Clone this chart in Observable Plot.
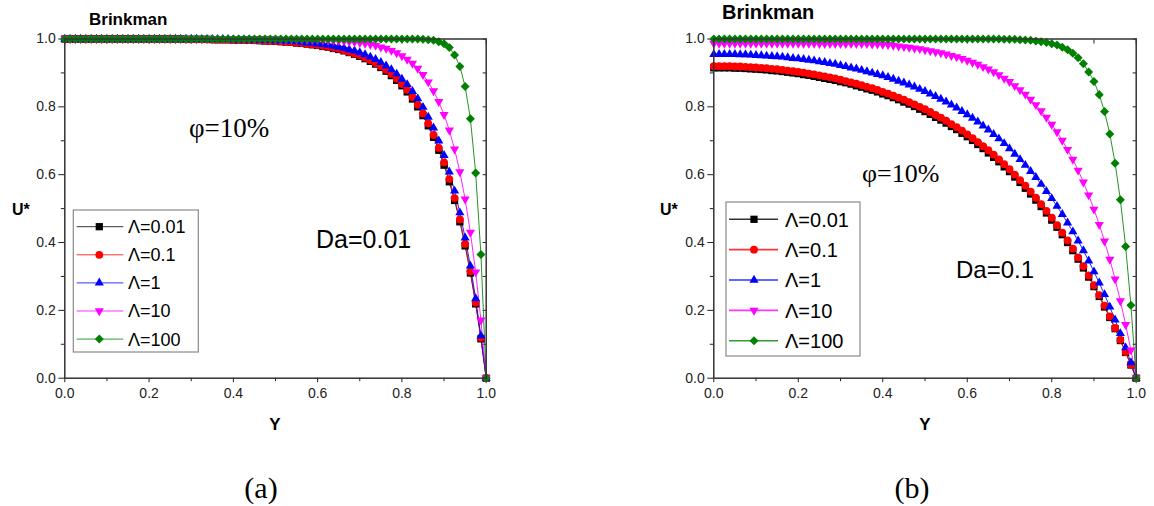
<!DOCTYPE html>
<html>
<head>
<meta charset="utf-8">
<script src="https://cdn.jsdelivr.net/npm/d3@7"></script>
<script src="https://cdn.jsdelivr.net/npm/@observablehq/plot@0.6"></script>
<style>
  html, body { margin: 0; padding: 0; background: #fff; }
  #fig { position: relative; width: 1154px; height: 506px; overflow: hidden; background: #fff; }
  #fig > div { position: absolute; top: 0; }
  #ov { position: absolute; left: 0; top: 0; }
</style>
</head>
<body>
<div id="fig">
  <div id="pa" style="left:0px"></div>
  <div id="pb" style="left:650px"></div>
  <svg id="ov" width="1154" height="506"></svg>
</div>
<script>
// ---------- data ----------
const Ygrid = [0,0.0125,0.025,0.0375,0.05,0.0625,0.075,0.0875,0.1,0.1125,0.125,0.1375,0.15,0.1625,0.175,0.1875,0.2,0.2125,0.225,0.2375,0.25,0.2625,0.275,0.2875,0.3,0.3125,0.325,0.3375,0.35,0.3625,0.375,0.3875,0.4,0.4125,0.425,0.4375,0.45,0.4625,0.475,0.4875,0.5,0.5125,0.525,0.5375,0.55,0.5625,0.575,0.5875,0.6,0.6125,0.625,0.6375,0.65,0.6625,0.675,0.6875,0.7,0.7125,0.725,0.7375,0.75,0.7625,0.775,0.7875,0.8,0.8125,0.825,0.8375,0.85,0.8625,0.875,0.8875,0.9,0.9125,0.925,0.9375,0.95,0.9625,0.975,0.9875,1];

const seriesLabels = ["Λ=0.01","Λ=0.1","Λ=1","Λ=10","Λ=100"];

// Panel (a): Da = 0.01
const a_L001 = [1,1,1,1,1,1,1,1,1,1,1,1,1,1,1,1,1,1,1,1,1,1,1,.999,.999,.999,.999,.999,.998,.998,.998,.998,.997,.997,.997,.996,.996,.995,.994,.994,.993,.992,.991,.990,.988,.987,.985,.983,.981,.978,.976,.972,.969,.965,.960,.955,.949,.942,.934,.926,.916,.905,.892,.878,.862,.844,.823,.800,.774,.744,.710,.672,.628,.579,.524,.461,.390,.310,.219,.116,0];
const a_L01 = [1,1,1,1,1,1,1,1,1,1,1,1,1,1,1,1,1,1,1,1,1,1,1,.999,.999,.999,.999,.999,.999,.998,.998,.998,.998,.997,.997,.997,.996,.996,.995,.994,.994,.993,.992,.991,.989,.988,.986,.984,.982,.980,.977,.974,.971,.967,.962,.957,.952,.945,.938,.929,.920,.909,.897,.883,.867,.850,.829,.806,.780,.751,.717,.679,.636,.587,.531,.468,.396,.315,.223,.119,0];
const a_L1 = [1,1,1,1,1,1,1,1,1,1,1,1,1,1,1,1,1,1,1,1,1,1,1,1,1,1,.999,.999,.999,.999,.999,.999,.998,.998,.998,.998,.997,.997,.996,.996,.995,.995,.994,.993,.992,.991,.989,.988,.986,.984,.982,.979,.976,.973,.969,.965,.960,.954,.947,.940,.931,.921,.910,.897,.882,.866,.846,.824,.799,.770,.738,.700,.657,.608,.552,.488,.414,.331,.235,.125,0];
const a_L10 = [1,1,1,1,1,1,1,1,1,1,1,1,1,1,1,1,1,1,1,1,1,1,1,1,1,1,1,1,1,1,1,1,1,1,1,1,1,1,1,1,1,.999,.999,.999,.999,.999,.998,.998,.998,.997,.996,.996,.995,.994,.992,.991,.989,.987,.984,.981,.976,.972,.966,.959,.950,.940,.928,.913,.895,.873,.847,.815,.777,.731,.675,.608,.528,.430,.313,.171,0];
const a_L100 = [1,1,1,1,1,1,1,1,1,1,1,1,1,1,1,1,1,1,1,1,1,1,1,1,1,1,1,1,1,1,1,1,1,1,1,1,1,1,1,1,1,1,1,1,1,1,1,1,1,1,1,1,1,1,1,1,1,1,1,1,1,1,1,1,1,1,1,1,.999,.998,.996,.992,.986,.975,.953,.919,.860,.765,.605,.365,0];

// Panel (b): Da = 0.1
const b_L001 = [.915,.915,.915,.915,.914,.914,.913,.912,.911,.910,.909,.907,.906,.904,.902,.900,.898,.895,.893,.890,.887,.884,.881,.878,.874,.871,.867,.862,.858,.853,.849,.844,.838,.833,.827,.821,.814,.808,.801,.793,.786,.778,.769,.761,.752,.742,.733,.722,.712,.701,.689,.677,.664,.651,.638,.623,.609,.593,.577,.560,.543,.525,.506,.487,.466,.445,.423,.400,.376,.351,.325,.298,.270,.241,.210,.179,.146,.111,.076,.039,0];
const b_L01 = [.920,.920,.920,.920,.919,.919,.918,.917,.916,.915,.914,.912,.911,.909,.907,.905,.903,.901,.898,.896,.893,.890,.887,.884,.880,.876,.872,.868,.864,.859,.855,.850,.844,.839,.833,.827,.821,.814,.807,.800,.793,.785,.776,.768,.759,.749,.740,.730,.719,.708,.696,.684,.672,.659,.645,.631,.616,.600,.584,.568,.550,.532,.513,.493,.473,.451,.429,.406,.382,.356,.330,.303,.274,.245,.214,.182,.148,.113,.077,.039,0];
const b_L1 = [.955,.955,.955,.955,.955,.954,.954,.953,.952,.951,.950,.949,.948,.947,.945,.943,.942,.940,.938,.936,.933,.931,.928,.926,.922,.919,.915,.912,.908,.904,.900,.896,.892,.887,.882,.876,.871,.865,.859,.852,.846,.838,.831,.823,.815,.806,.797,.787,.777,.767,.756,.744,.732,.719,.706,.692,.677,.661,.645,.628,.610,.592,.572,.551,.530,.507,.483,.458,.432,.405,.376,.346,.314,.281,.247,.210,.172,.132,.090,.046,0];
const b_L10 = [.987,.987,.987,.987,.987,.987,.987,.987,.987,.987,.987,.987,.987,.987,.987,.987,.987,.987,.987,.987,.986,.986,.986,.986,.986,.986,.986,.986,.986,.986,.985,.985,.984,.983,.981,.979,.977,.975,.973,.971,.968,.965,.962,.959,.955,.951,.947,.942,.937,.931,.925,.918,.911,.903,.894,.884,.874,.862,.850,.837,.822,.806,.788,.769,.748,.726,.701,.674,.645,.613,.578,.540,.498,.453,.404,.350,.292,.228,.158,.083,0];
const b_L100 = [1,1,1,1,1,1,1,1,1,1,1,1,1,1,1,1,1,1,1,1,1,1,1,1,1,1,1,1,1,1,1,1,1,1,1,1,1,1,1,1,1,1,1,1,1,1,1,1,1,1,1,1,1,1,1,.999,.999,.999,.998,.997,.996,.994,.992,.990,.986,.982,.976,.968,.958,.945,.927,.903,.875,.836,.786,.720,.634,.526,.388,.215,0];

const majorTicks = [0, 0.2, 0.4, 0.6, 0.8, 1.0];
const minorTicks = [0.1, 0.3, 0.5, 0.7, 0.9];

// ---------- styles ----------
const colors = ["#000000", "#ff0000", "#0000ff", "#ff00ff", "#008000"];
const markerStyle = [
  {symbol: "square",   r: 4.1, rotate: 0},
  {symbol: "circle",   r: 3.9, rotate: 0},
  {symbol: "triangle", r: 3.4, rotate: 0},
  {symbol: "triangle", r: 3.4, rotate: 180},
  {symbol: "square",   r: 3.6, rotate: 45}
];
const fontSans = "'Liberation Sans', Arial, Helvetica, sans-serif";
const fontSerif = "'Liberation Serif', 'Times New Roman', serif";

function makePanel(seriesList, width, marginLeft, marginRight) {
  const fmt = d3.format(".1f");
  const marks = [
    Plot.axisX(majorTicks, {anchor: "bottom", tickSize: 4.5, tickPadding: 5, tickFormat: fmt, label: null}),
    Plot.axisX(minorTicks, {anchor: "bottom", tickSize: 3.5, tickFormat: () => "", label: null}),
    Plot.axisX(majorTicks.concat(minorTicks), {anchor: "top", tickSize: -4, tickFormat: () => "", label: null}),
    Plot.axisY(majorTicks, {anchor: "left", tickSize: 6, tickPadding: 3, tickFormat: fmt, label: null}),
    Plot.axisY(minorTicks, {anchor: "left", tickSize: 3.5, tickFormat: () => "", label: null}),
    Plot.axisY(majorTicks.concat(minorTicks), {anchor: "right", tickSize: -4, tickFormat: () => "", label: null})
  ];
  seriesList.forEach((vals, i) => {
    const rows = Ygrid.map((y, k) => ({Y: y, U: vals[k]}));
    marks.push(Plot.line(rows, {x: "Y", y: "U", stroke: colors[i], strokeWidth: 1, strokeOpacity: 0.85}));
  });
  seriesList.forEach((vals, i) => {
    const rows = Ygrid.map((y, k) => ({Y: y, U: vals[k]}));
    const m = markerStyle[i];
    marks.push(Plot.dot(rows, {x: "Y", y: "U", symbol: m.symbol, r: m.r, rotate: m.rotate, fill: colors[i], stroke: "none"}));
  });
  marks.push(Plot.frame({stroke: "#333", strokeWidth: 1.5}));
  return Plot.plot({
    width, height: 440,
    marginLeft, marginRight, marginTop: 38.5, marginBottom: 62.3,
    x: {domain: [0, 1], axis: null},
    y: {domain: [0, 1], axis: null},
    style: {fontFamily: fontSans, fontSize: "14px", color: "#222", background: "transparent", overflow: "visible"},
    marks
  });
}

document.getElementById("pa").appendChild(makePanel([a_L001, a_L01, a_L1, a_L10, a_L100], 560, 64.3, 74.3));
document.getElementById("pb").appendChild(makePanel([b_L001, b_L01, b_L1, b_L10, b_L100], 504, 63.3, 18.3));

// ---------- overlay texts & legends ----------
const ov = d3.select("#ov");
function txt(s, x, y, size, opts = {}) {
  return ov.append("text").attr("x", x).attr("y", y)
    .attr("font-family", opts.serif ? fontSerif : fontSans)
    .attr("font-size", size)
    .attr("font-weight", opts.bold ? "bold" : "normal")
    .attr("text-anchor", opts.anchor || "start")
    .attr("fill", "#000")
    .text(s);
}
// panel (a)
txt("Brinkman", 89, 25, 17, {bold: true});
txt("U*", 12, 215, 16, {bold: true});
txt("Y", 275, 430, 17, {bold: true, anchor: "middle"});
txt("φ=10%", 189, 137, 27, {serif: true});
txt("Da=0.01", 316, 248, 25);
txt("(a)", 261, 498, 30, {serif: true, anchor: "middle"});
// panel (b)
txt("Brinkman", 722, 19, 20, {bold: true});
txt("U*", 660, 215, 16, {bold: true});
txt("Y", 925, 430, 17, {bold: true, anchor: "middle"});
txt("φ=10%", 862, 182, 26, {serif: true});
txt("Da=0.1", 956, 278, 24);
txt("(b)", 912, 498, 30, {serif: true, anchor: "middle"});

const symMap = {square: d3.symbolSquare, circle: d3.symbolCircle, triangle: d3.symbolTriangle};
function legend(box, rowY0, rowStep, lineX0, lineX1, markX, textX, fontSize, lineW) {
  ov.append("rect").attr("x", box[0]).attr("y", box[1]).attr("width", box[2]).attr("height", box[3])
    .attr("fill", "#fff").attr("stroke", "#8a8a8a").attr("stroke-width", 1.2);
  seriesLabels.forEach((lab, i) => {
    const cy = rowY0 + i * rowStep;
    ov.append("line").attr("x1", lineX0).attr("x2", lineX1).attr("y1", cy).attr("y2", cy)
      .attr("stroke", colors[i]).attr("stroke-width", lineW).attr("stroke-opacity", 0.8);
    const m = markerStyle[i];
    ov.append("path").attr("d", d3.symbol(symMap[m.symbol], Math.PI * m.r * m.r)())
      .attr("transform", `translate(${markX},${cy}) rotate(${m.rotate})`)
      .attr("fill", colors[i]);
    txt(lab, textX, cy + fontSize * 0.36, fontSize);
  });
}
legend([73.3, 210, 125, 142], 226.7, 28.1, 76.7, 123.3, 99.3, 128, 18, 1);
legend([726, 202, 134, 154], 219.3, 30.35, 729, 778, 754, 785, 20, 1.6);
</script>
</body>
</html>
